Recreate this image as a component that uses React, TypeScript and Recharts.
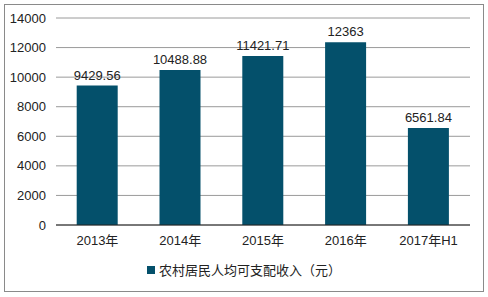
import { BarChart, Bar, XAxis, YAxis, CartesianGrid, LabelList } from 'recharts';

const years = ['2013年', '2014年', '2015年', '2016年', '2017年H1'];
const income = [9429.56, 10488.88, 11421.71, 12363, 6561.84];
const yTicks = [0, 2000, 4000, 6000, 8000, 10000, 12000, 14000];
const seriesName = '农村居民人均可支配收入（元）';

const chartData = years.map((y, i) => ({ year: y, income: income[i] }));

const FONT = '"Liberation Sans", Arial, "Noto Sans CJK SC", sans-serif';
const BAR = '#04506b';

export default function App() {
  return (
    <div style={{ position: 'absolute', left: 0, top: 0, width: 488, height: 297, background: '#fff' }}>
      <div style={{ position: 'absolute', left: 4, top: 4, width: 478, height: 286, border: '1px solid #8a8a8a' }} />
      <BarChart
        width={488}
        height={297}
        data={chartData}
        margin={{ top: 18, right: 18, left: 6, bottom: 0 }}
        barCategoryGap="25%"
        style={{ position: 'absolute', left: 0, top: 0 }}
      >
        <CartesianGrid vertical={false} stroke="#9a9a9a" />
        <XAxis
          dataKey="year"
          height={72}
          tickLine={false}
          tickMargin={5}
          axisLine={{ stroke: '#222' }}
          tick={{ fontSize: 13, fill: '#222', fontFamily: FONT }}
        />
        <YAxis
          width={50}
          domain={[0, 14000]}
          ticks={yTicks}
          axisLine={false}
          tickLine={false}
          tickMargin={4}
          tick={{ fontSize: 13, fill: '#222', fontFamily: FONT }}
        />
        <Bar dataKey="income" name={seriesName} fill={BAR} isAnimationActive={false}>
          <LabelList dataKey="income" position="top" offset={6} style={{ fontSize: 13, fill: '#222', fontFamily: FONT }} />
        </Bar>
      </BarChart>
      <div style={{ position: 'absolute', left: 0, top: 260, width: 488, display: 'flex', justifyContent: 'center', alignItems: 'center', fontFamily: '"Noto Sans CJK SC", sans-serif', fontSize: 13, color: '#222', lineHeight: '20px' }}>
        <span style={{ width: 8, height: 8, background: BAR, display: 'inline-block', marginRight: 4 }} />
        <span>{seriesName}</span>
      </div>
    </div>
  );
}
